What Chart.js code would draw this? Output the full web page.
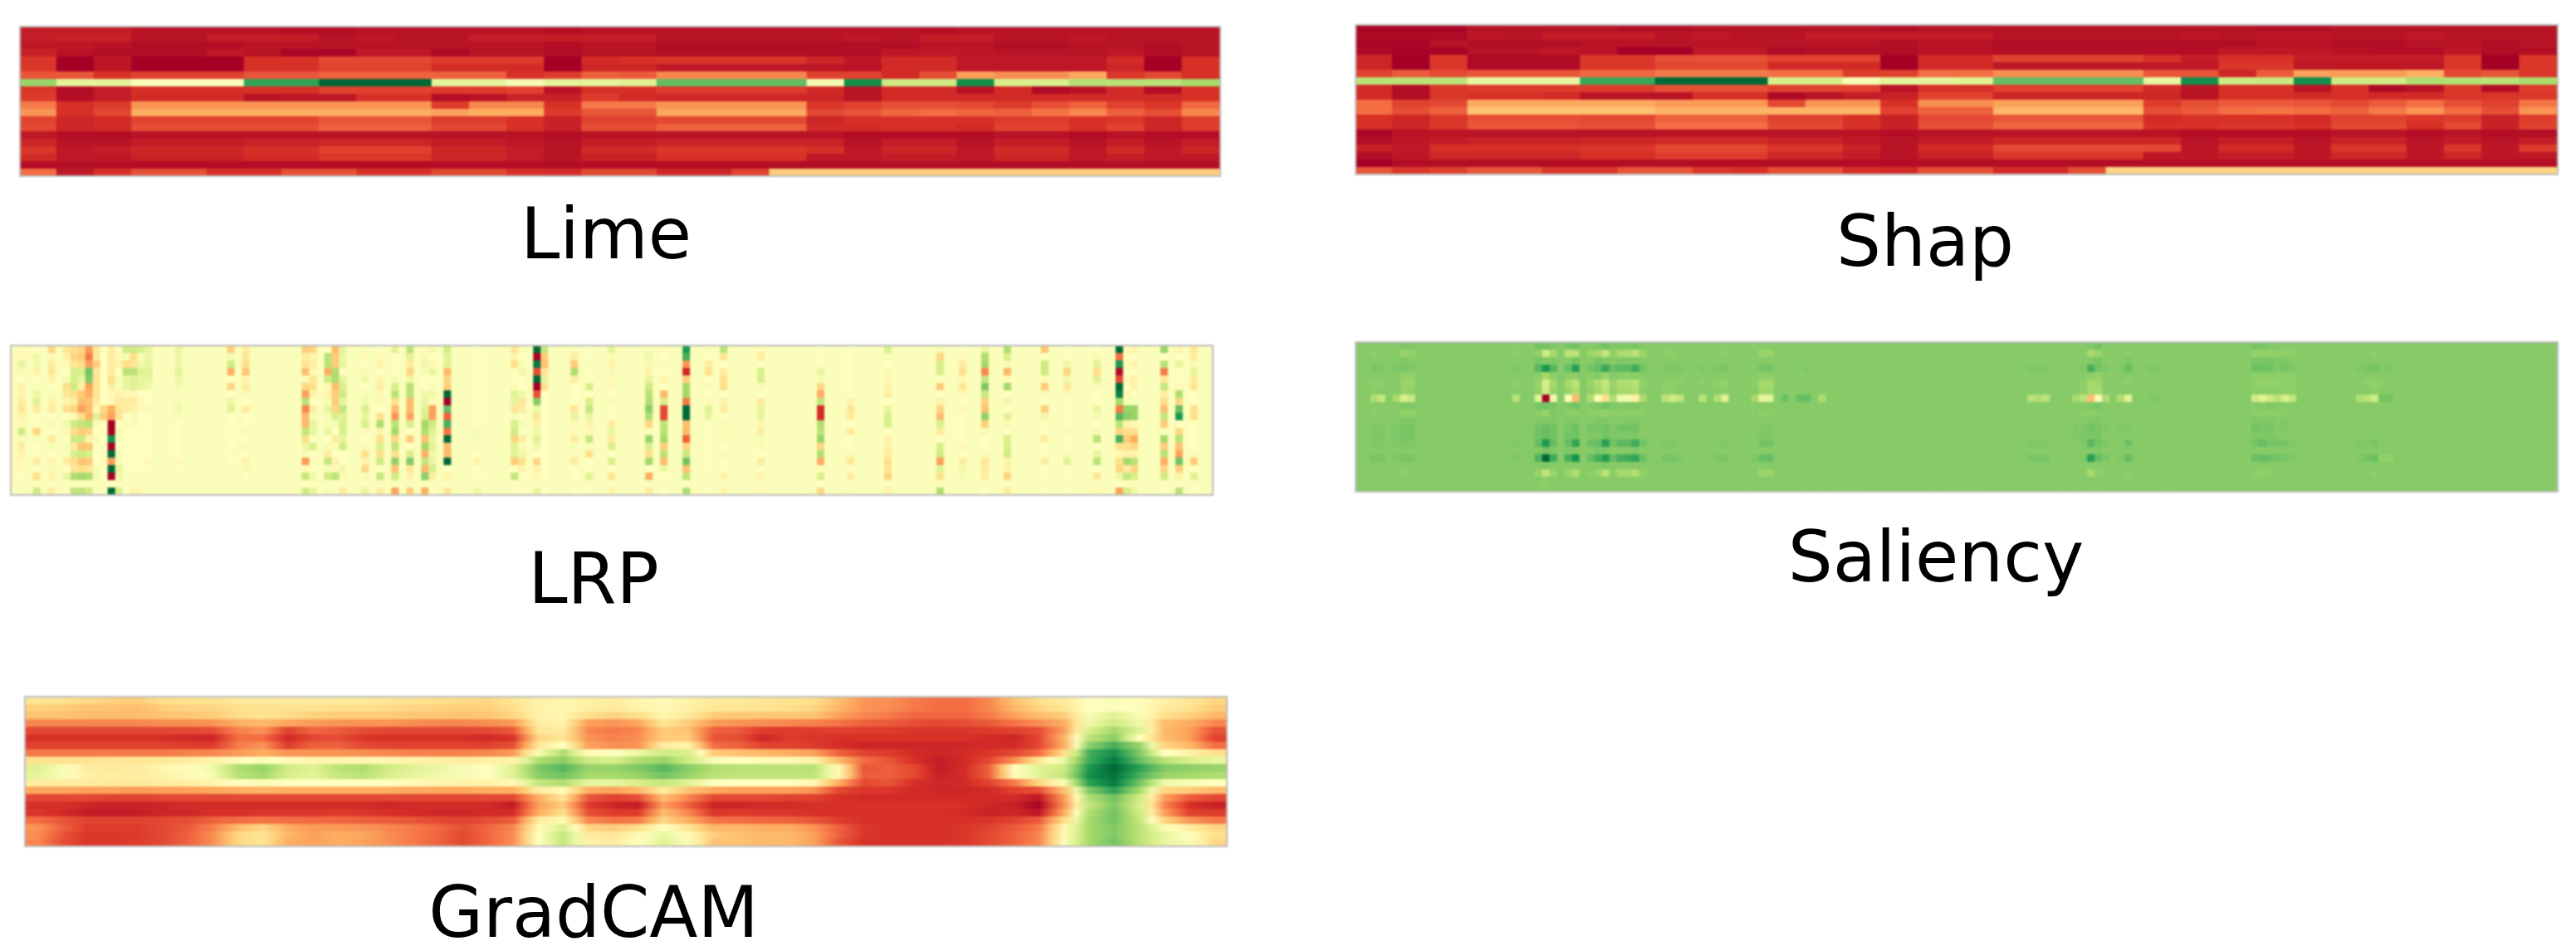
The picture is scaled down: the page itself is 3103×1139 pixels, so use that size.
<!DOCTYPE html>
<html>
<head>
<meta charset="utf-8">
<title>Explanation heatmaps</title>
<script src="https://cdn.jsdelivr.net/npm/chart.js@4"></script>
<style>
    html, body { margin: 0; padding: 0; background: #fff; overflow: hidden; }
    canvas { position: absolute; display: block; filter: blur(1px); }
    .name {
        position: absolute;
        font-family: "DejaVu Sans", sans-serif;
        font-size: 85px;
        line-height: 85px;
        color: #000;
        white-space: nowrap;
        transform: translateX(-50%);
    }
</style>
</head>
<body>
<canvas id="limeChart"></canvas>
<canvas id="shapChart"></canvas>
<canvas id="lrpChart"></canvas>
<canvas id="saliencyChart"></canvas>
<canvas id="gradcamChart"></canvas>
<div class="name" style="left:730px;top:239px">Lime</div>
<div class="name" style="left:2319px;top:248px">Shap</div>
<div class="name" style="left:715px;top:654px">LRP</div>
<div class="name" style="left:2332px;top:628px">Saliency</div>
<div class="name" style="left:715px;top:1056px">GradCAM</div>
<script>
// all cell values are positions on the RdYlGn colour scale: 0 = dark red, 50 = pale yellow, 100 = dark green
const limeRows = [
    [6,6,6,4,4,4,4,3,3,4,4,4,4,4,3,4,4,4,4,4,4,4,4,4,3,4,4,4,4,4,4,4],
    [6,7,7,4,4,6,6,6,4,5,4,4,6,6,6,6,6,4,4,4,4,4,5,4,6,6,4,4,5,4,4,4],
    [5,5,4,3,3,3,4,4,4,4,4,4,4,4,3,4,4,3,3,3,3,3,3,3,4,4,3,3,4,4,3,4],
    [7,4,3,3,3,5,4,1,1,5,5,2,4,4,3,4,4,3,3,3,3,3,3,5,5,5,4,4,4,5,3,4],
    [11,0,5,0,0,0,10,10,14,14,14,12,12,12,0,9,10,11,11,11,11,8,5,9,9,5,5,5,5,9,0,10],
    [11,0,5,0,0,0,10,10,13,13,13,9,9,9,0,8,8,5,5,5,5,5,4,9,9,5,5,5,5,8,0,10],
    [16,16,10,13,13,13,16,16,18,18,18,18,18,10,12,18,17,24,24,24,24,13,13,9,15,28,25,25,29,11,14,10],
    [72,57,57,51,51,51,87,87,100,100,100,57,57,52,57,57,58,80,80,80,80,53,92,62,62,92,60,60,67,66,66,70],
    [11,3,6,10,10,10,10,10,13,13,13,12,12,13,4,10,10,12,12,12,12,9,4,9,9,4,9,2,4,9,3,10],
    [12,3,6,9,9,9,4,5,5,10,10,3,4,7,7,12,9,8,8,8,8,8,4,9,9,9,9,9,9,9,9,10],
    [22,10,12,26,26,26,26,26,26,26,26,12,24,24,10,22,22,26,26,26,26,11,13,15,15,14,12,15,18,13,11,19],
    [26,10,14,30,30,30,30,30,30,30,30,28,30,30,12,16,16,29,29,29,29,14,16,19,20,19,18,21,24,18,15,24],
    [13,8,9,13,13,13,13,13,16,16,16,12,12,10,7,13,13,14,14,14,14,8,10,10,10,10,12,12,10,11,8,12],
    [14,8,9,15,15,15,15,15,18,18,18,14,14,10,7,15,15,18,18,18,18,9,9,10,10,9,13,13,10,13,8,12],
    [5,3,3,4,4,4,4,4,4,4,4,4,4,4,3,4,4,4,4,4,4,4,3,3,3,3,4,4,3,4,3,3],
    [8,4,4,6,6,6,7,7,8,8,8,6,6,5,4,6,6,7,7,7,7,7,4,6,6,4,6,6,4,6,4,6],
    [11,5,6,8,8,8,10,10,13,13,13,8,8,6,4,9,9,11,11,11,11,10,5,8,8,5,9,9,5,9,5,8],
    [9,5,5,7,7,7,9,9,11,11,11,8,8,6,4,7,7,10,10,10,10,5,5,6,6,5,8,8,5,6,5,5],
    [3,3,3,3,3,3,3,3,3,3,3,3,3,3,3,3,3,3,3,3,3,3,3,3,3,3,3,3,3,3,3,3],
    [20,5,10,15,15,10,10,15,15,10,10,14,14,10,9,14,14,8,8,13,36,36,36,36,36,36,36,36,36,36,36,36]
];

const shapRows = [
    [1,1,1,4,4,4,4,3,3,4,4,4,4,4,3,4,4,4,4,4,4,4,4,4,3,3,4,4,4,4,4,4],
    [2,2,2,5,4,6,6,6,4,5,4,4,6,6,6,6,6,4,4,4,4,4,5,4,5,5,4,4,5,4,4,4],
    [1,1,4,3,3,3,4,4,4,4,4,4,4,4,3,4,4,3,3,3,3,3,3,3,4,4,3,3,4,4,3,4],
    [2,1,1,4,4,5,4,0,0,5,5,2,3,3,3,4,4,3,3,3,3,3,3,5,5,5,4,3,3,5,3,3],
    [8,0,11,2,2,2,11,11,15,15,15,13,13,13,0,9,9,13,13,13,13,10,6,10,10,6,6,6,6,11,0,11],
    [8,0,11,2,2,2,11,11,14,14,14,9,9,9,0,9,9,5,5,5,5,5,5,11,11,5,5,5,5,11,0,11],
    [13,17,14,16,16,16,19,19,22,22,22,20,20,12,13,20,20,25,25,25,25,16,16,8,17,28,27,27,30,14,16,11],
    [66,66,66,56,56,56,86,86,100,100,100,60,60,52,57,57,58,80,80,80,80,56,92,62,63,92,62,62,68,67,66,69],
    [9,3,11,12,12,12,12,12,15,15,15,13,13,13,4,10,10,13,13,13,13,9,4,10,10,4,10,2,4,11,3,12],
    [9,3,11,10,10,9,4,4,4,10,10,2,4,6,7,13,13,8,8,8,8,8,4,10,10,9,10,9,9,11,11,11],
    [20,13,14,29,29,29,29,29,27,27,27,14,26,26,10,25,25,28,28,28,28,12,15,17,17,16,14,17,20,15,13,21],
    [20,15,18,34,34,34,34,34,31,31,31,31,31,31,13,18,18,32,32,32,32,15,17,20,21,20,18,22,26,20,15,26],
    [10,8,11,15,15,15,14,14,18,18,18,13,13,10,7,14,14,16,16,16,16,9,10,10,10,9,13,13,11,12,7,12],
    [10,8,11,16,16,16,15,15,20,20,20,14,14,10,7,15,15,19,19,19,19,10,10,11,11,10,14,14,10,14,7,13],
    [1,4,4,4,4,4,4,4,4,4,4,4,4,4,3,4,4,4,4,4,4,4,3,3,3,3,4,4,3,4,3,3],
    [3,5,6,7,7,7,8,8,9,9,9,7,7,5,4,6,6,8,8,8,8,8,4,6,6,4,7,7,4,6,4,6],
    [7,5,10,10,10,10,11,11,14,14,14,11,11,7,4,9,9,14,14,14,14,14,5,9,9,5,11,11,5,11,5,12],
    [3,5,8,8,8,8,10,10,12,12,12,8,8,6,4,7,7,11,11,11,11,5,5,6,6,5,8,8,5,8,5,5],
    [0,3,3,3,3,3,3,3,3,3,3,3,3,3,3,3,3,3,3,3,3,3,3,3,3,3,3,3,3,3,3,3],
    [16,11,13,16,16,11,11,16,16,11,10,15,15,10,9,15,15,9,9,15,38,38,38,38,38,38,38,38,38,38,38,38]
];

// LRP and Saliency are mostly flat: only the columns that stand out are listed, the rest stay at the base value
const gridColumns = 161;
const gridRows = 20;
const lrpBase = 51;
const lrpColumnIndex = [
    1, 3, 5, 7, 8, 9, 10, 11, 12, 13, 14, 15, 16, 17, 18, 22, 29, 31, 39, 40, 42, 43, 44, 47, 49, 51, 53, 55, 56, 58,
    62, 67, 68, 70, 71, 75, 77, 80, 85, 87, 90, 93, 95, 100, 108, 112, 117, 124, 127, 130, 133, 138, 141, 145, 148, 149, 150, 154, 156, 158
];
const lrpColumnValues = [
    [48,48,56,52,50,46,46,44,42,46,48,62,52,44,46,48,48,50,51,51],
    [50,54,54,46,50,52,55,58,44,50,50,38,52,50,50,44,50,40,51,62],
    [38,48,44,42,46,50,52,46,44,50,52,50,44,52,50,46,52,46,51,44],
    [42,46,48,50,52,40,42,46,40,50,54,48,50,52,52,44,50,56,51,50],
    [40,38,42,60,60,62,40,44,38,48,62,40,62,44,60,40,42,68,51,65],
    [38,36,40,60,56,45,35,33,28,40,64,36,62,34,62,34,40,70,51,65],
    [27,22,28,78,75,28,30,34,33,31,66,38,46,35,60,36,42,68,51,62],
    [43,43,36,42,42,42,42,44,48,58,52,50,52,50,50,50,52,52,51,51],
    [50,50,50,50,50,50,50,50,38,36,50,51,50,50,51,48,50,50,51,51],
    [44,44,44,44,40,44,48,48,30,28,0,0,92,0,100,27,100,0,50,100],
    [48,48,46,50,52,52,46,44,42,42,50,52,52,50,52,52,56,54,51,60],
    [62,52,40,66,56,56,48,44,44,50,48,50,50,50,50,50,50,51,51,50],
    [62,40,42,66,58,58,48,44,46,52,48,50,50,50,50,50,50,51,51,46],
    [60,52,54,58,56,56,50,48,48,50,50,50,50,50,50,50,50,51,51,48],
    [56,55,56,58,56,54,50,50,52,50,50,50,50,50,50,48,50,51,51,51],
    [56,55,55,57,55,53,51,52,54,51,50,50,50,50,50,48,50,51,51,51],
    [36,52,62,30,50,38,50,55,58,50,50,51,50,50,51,50,51,51,51,51],
    [44,42,40,35,46,44,48,50,44,50,50,48,50,48,50,46,52,50,51,51],
    [36,44,42,33,52,38,28,66,24,32,32,64,40,55,52,27,48,64,50,62],
    [38,46,44,48,42,40,46,50,44,52,56,56,50,60,50,52,50,54,51,56],
    [50,66,66,30,62,48,46,52,56,52,52,56,50,52,44,64,52,62,51,52],
    [33,36,36,68,68,33,36,36,38,60,52,50,44,48,50,46,48,66,51,51],
    [56,55,56,50,56,60,62,56,64,58,60,60,56,62,50,50,54,48,51,44],
    [52,48,50,52,54,50,52,54,60,56,60,48,50,52,40,46,38,52,51,56],
    [50,48,46,50,46,44,48,52,50,40,68,46,40,60,40,62,50,64,51,44],
    [58,50,50,50,52,60,66,40,32,26,66,70,38,65,40,73,34,62,51,28],
    [66,58,44,38,55,66,66,32,32,28,60,50,36,50,60,76,42,46,51,36],
    [48,52,54,52,50,50,54,56,58,60,70,68,34,70,31,64,32,74,51,30],
    [54,50,48,56,50,52,54,48,28,28,62,58,56,58,54,56,60,44,51,50],
    [62,58,58,32,38,36,100,0,80,18,84,21,100,33,32,100,50,46,51,42],
    [50,50,50,50,50,50,50,50,50,50,50,52,52,48,50,46,50,50,51,54],
    [42,46,40,50,50,48,58,56,42,52,60,62,38,58,58,36,50,64,51,50],
    [52,50,52,54,50,50,54,42,44,50,52,50,44,52,54,40,46,50,51,50],
    [100,0,97,15,100,0,15,75,55,42,46,54,58,54,50,38,46,48,51,56],
    [64,36,34,42,56,40,50,50,50,50,50,50,50,50,50,50,50,50,51,50],
    [52,44,36,68,44,50,50,50,42,56,48,48,44,52,48,44,50,50,51,50],
    [50,50,52,50,50,60,50,60,64,56,46,48,64,52,40,50,50,58,51,50],
    [58,48,46,52,48,48,50,52,50,50,44,56,44,60,50,60,50,42,51,46],
    [52,54,52,46,56,62,66,68,74,68,38,52,72,60,40,70,50,30,51,44],
    [48,50,48,50,46,50,32,60,14,14,66,66,70,36,66,33,55,50,51,50],
    [90,84,26,8,36,70,70,22,100,100,33,32,18,38,63,78,34,65,50,68],
    [52,50,44,40,50,52,50,48,58,56,50,50,50,50,50,50,50,52,51,50],
    [66,42,50,44,40,40,50,46,44,50,52,48,52,50,52,50,50,46,51,46],
    [48,44,50,60,60,52,50,44,56,56,46,44,52,48,50,44,50,46,51,48],
    [50,50,50,56,52,38,30,65,9,9,68,66,72,38,68,30,48,60,50,38],
    [50,50,50,50,50,50,50,46,42,44,50,44,50,50,52,42,50,44,51,52],
    [60,52,50,52,48,46,44,50,56,60,60,50,46,46,44,40,42,38,51,46],
    [52,38,60,60,50,36,50,46,38,33,60,44,50,60,62,28,58,40,51,68],
    [50,48,44,40,48,42,48,50,48,50,50,50,50,48,50,44,54,52,51,51],
    [56,68,70,24,64,76,63,37,34,73,37,52,50,50,52,42,44,44,51,50],
    [68,60,52,32,48,70,50,54,50,58,48,50,60,60,62,46,46,38,51,44],
    [35,50,62,62,48,36,52,50,36,54,50,50,44,50,50,44,50,50,51,50],
    [50,50,54,38,54,42,48,50,50,50,50,48,50,50,52,58,50,50,51,50],
    [50,52,58,40,58,52,50,50,56,52,50,52,66,50,56,66,50,42,51,48],
    [100,20,90,2,14,100,95,70,22,82,66,38,84,40,48,40,38,55,50,28],
    [48,50,48,50,48,50,48,52,72,74,46,40,36,40,46,70,44,64,51,60],
    [46,50,46,50,46,46,50,52,72,72,48,40,30,38,46,66,38,60,51,54],
    [72,50,66,22,42,64,44,40,33,64,36,52,70,36,66,30,38,62,51,50],
    [46,50,56,50,50,48,68,38,80,90,50,38,66,34,28,78,36,46,51,66],
    [42,44,52,56,44,42,50,50,40,40,50,50,50,50,52,36,50,58,51,50]
];

const saliencyBase = 75;
const saliencyColumnIndex = [
    2, 3, 5, 6, 7, 21, 24, 25, 26, 28, 29, 31, 32, 33, 34, 35, 36, 37, 38, 41, 42, 43, 46, 48, 49, 53, 54, 55, 57, 59, 60, 62,
    90, 91, 92, 96, 97, 98, 99, 100, 102, 103, 106, 107, 120, 121, 122, 123, 124, 125, 134, 135, 136, 137, 138
];
const saliencyColumnValues = [
    [75,74,75,77,75,74,74,68,75,74,75,76,76,76,75,77,75,75,75,75],
    [75,75,75,76,75,74,75,64,75,75,75,76,76,76,75,77,75,75,75,75],
    [75,75,75,76,75,75,75,69,75,75,75,76,76,76,75,76,75,75,75,75],
    [76,72,76,77,73,72,72,60,76,73,76,77,77,77,75,77,75,74,75,75],
    [76,73,75,76,73,72,73,63,76,73,76,77,77,76,75,77,75,75,75,75],
    [75,74,75,76,75,74,75,66,75,75,75,75,75,76,75,76,75,75,75,75],
    [78,73,77,82,74,72,73,58,77,74,76,78,78,80,76,83,75,72,75,75],
    [78,62,76,90,70,60,62,0,78,72,76,80,80,90,78,100,76,65,74,74],
    [76,70,76,82,74,70,72,54,77,76,76,78,78,80,76,85,75,72,75,75],
    [77,66,75,80,74,70,72,52,76,74,76,77,78,80,76,84,75,72,75,75],
    [78,66,78,88,74,66,68,33,78,74,76,79,78,87,76,91,75,68,75,75],
    [75,72,75,78,74,72,73,68,75,74,75,77,76,79,75,80,75,74,75,75],
    [76,70,77,80,75,68,70,52,76,74,76,77,76,80,76,84,75,72,75,75],
    [78,64,76,86,72,64,66,40,78,73,76,78,78,88,76,89,76,66,75,75],
    [76,73,75,79,75,72,73,68,76,74,75,76,76,78,75,80,75,74,75,75],
    [76,69,76,81,74,68,70,54,75,74,75,78,76,81,75,84,75,70,75,75],
    [76,68,76,81,74,68,70,54,76,74,76,78,76,81,75,85,75,70,75,75],
    [77,66,76,85,74,66,68,45,76,74,76,78,76,85,76,87,75,68,75,75],
    [75,72,75,78,75,73,74,68,75,74,75,75,75,78,75,79,75,73,75,75],
    [75,74,75,76,75,74,74,66,75,75,75,75,75,76,75,77,75,75,75,75],
    [75,74,75,76,75,74,74,62,75,75,75,75,75,76,75,77,75,75,75,75],
    [75,75,75,76,75,74,75,65,75,75,75,75,75,75,75,76,75,75,75,75],
    [75,75,75,76,75,74,75,66,75,75,75,75,75,75,75,75,75,75,75,75],
    [75,75,75,76,75,74,75,68,75,75,75,75,75,75,75,76,75,75,75,75],
    [75,74,75,77,75,73,74,58,75,75,75,75,75,76,75,77,75,75,75,75],
    [75,75,75,75,75,74,75,70,75,75,75,75,75,75,75,76,75,75,75,75],
    [75,72,75,78,74,70,71,56,75,74,75,76,76,78,75,80,75,72,75,75],
    [75,72,75,78,74,70,71,58,75,74,75,76,76,78,75,80,75,72,75,75],
    [75,75,75,75,75,75,75,79,75,75,75,75,75,75,75,75,75,75,75,75],
    [75,75,75,75,75,75,75,80,75,75,75,75,75,75,75,75,75,75,75,75],
    [75,75,75,76,75,75,75,80,75,75,75,75,75,75,75,75,75,75,75,75],
    [75,75,75,75,75,75,75,69,75,75,75,75,75,75,75,75,75,75,75,75],
    [75,75,75,76,75,75,75,66,75,75,75,75,75,76,75,77,75,75,75,75],
    [75,75,75,76,75,75,75,68,75,75,75,75,75,76,75,77,75,75,75,75],
    [75,75,75,76,75,75,75,66,75,75,75,75,75,76,75,77,75,75,75,75],
    [75,75,75,75,75,75,75,70,75,75,75,76,76,75,75,75,75,75,75,75],
    [75,75,75,76,75,74,74,66,75,74,75,76,76,76,75,76,75,75,75,75],
    [76,70,76,84,74,70,70,33,76,74,76,78,76,82,76,88,75,70,75,75],
    [78,72,77,78,73,71,70,52,77,75,76,77,77,78,76,80,75,74,75,75],
    [75,75,75,76,75,75,75,68,75,75,75,76,75,76,75,77,75,75,75,75],
    [75,75,75,76,75,75,75,68,75,75,75,76,75,75,75,76,75,75,75,75],
    [75,74,76,80,75,74,75,58,75,75,75,76,75,79,75,80,75,74,75,75],
    [75,75,75,76,75,75,75,76,75,75,75,75,75,75,75,75,75,75,75,75],
    [75,75,75,76,75,75,75,76,75,75,75,75,75,75,75,75,75,75,75,75],
    [77,73,77,79,74,73,74,62,75,74,76,78,76,78,75,79,75,74,75,75],
    [77,73,77,79,74,73,74,58,75,74,76,77,76,80,75,80,75,73,75,75],
    [76,73,77,78,74,73,74,62,76,74,76,77,76,77,75,79,75,74,75,75],
    [75,74,76,76,74,73,74,66,75,74,75,75,75,78,75,78,75,75,75,75],
    [75,74,76,78,74,74,74,60,75,74,76,76,75,77,75,77,75,75,75,75],
    [75,74,75,76,74,74,74,64,75,75,75,75,75,76,75,76,75,75,75,75],
    [75,75,75,76,75,75,75,68,75,75,75,75,75,76,75,76,75,75,75,75],
    [75,75,75,77,75,74,75,66,75,75,75,75,75,76,75,78,75,75,75,75],
    [75,74,75,78,75,73,74,62,75,75,75,75,75,77,75,79,75,74,75,75],
    [75,75,75,76,75,74,75,78,75,75,75,75,75,75,75,73,75,75,75,75],
    [75,75,75,76,75,75,75,78,75,75,75,75,75,75,75,73,75,75,75,75]
];

const gradcamRows = [
    [42,41,39,37,36,40,41,41,43,44,44,44,43,43,42,41,40,39,38,42,46,47,45,44,47,48,46,43,43,42,41,40,33,26,25,22,20,20,24,34,40,44,50,52,49,45,42,38],
    [37,36,34,34,33,36,38,38,40,41,41,41,40,40,39,38,37,36,37,40,46,47,45,43,46,48,45,42,42,41,40,38,32,26,25,22,20,20,24,32,38,42,50,51,49,44,41,36],
    [34,34,33,33,33,34,35,36,39,41,39,37,36,36,36,35,35,34,35,38,46,47,40,37,40,47,43,36,35,35,35,34,28,24,22,19,19,19,22,28,33,36,52,58,52,40,37,32],
    [24,24,24,24,24,25,25,26,30,32,29,27,26,26,26,25,24,24,25,27,44,46,28,26,29,42,36,27,26,25,24,23,21,18,17,15,14,15,17,21,25,30,54,62,54,33,30,24],
    [14,14,14,14,14,14,14,15,23,26,13,19,17,15,14,14,14,14,14,17,42,44,24,22,24,36,34,18,17,12,12,12,13,12,12,11,11,11,12,13,15,28,60,70,58,32,28,16],
    [10,10,10,10,10,10,9,8,20,20,9,14,15,11,10,10,10,10,9,11,38,42,26,23,25,36,36,16,15,8,12,11,10,10,10,10,10,10,9,8,14,32,66,74,50,33,28,13],
    [13,13,13,13,13,13,12,12,22,26,12,18,18,14,13,13,13,13,13,15,43,50,28,25,26,44,46,20,18,13,13,12,9,8,8,8,8,8,9,9,14,30,74,84,72,38,32,20],
    [22,22,22,22,22,22,23,24,27,30,26,26,26,25,24,23,23,23,24,27,52,68,48,50,55,62,60,36,34,32,30,28,18,13,12,9,8,9,11,14,20,40,84,92,76,50,46,40],
    [41,41,41,42,42,43,44,46,48,52,48,47,47,47,47,46,45,44,45,46,68,74,62,60,68,72,62,52,50,48,48,46,32,20,16,10,6,9,14,25,42,56,85,96,80,66,60,56],
    [58,52,44,43,44,47,49,54,68,72,62,58,66,68,62,58,55,52,50,58,76,82,72,72,76,82,74,68,66,66,66,66,48,16,18,14,6,9,18,50,58,62,90,100,88,76,74,72],
    [57,52,45,44,44,46,48,53,66,70,60,57,64,66,60,56,54,52,50,58,74,78,70,70,72,78,72,66,65,65,65,65,48,17,18,14,7,9,18,48,58,64,92,98,84,72,70,68],
    [44,44,44,43,43,44,45,47,50,52,50,50,50,50,50,48,47,46,46,48,64,68,56,56,60,64,58,50,50,50,50,48,30,14,16,10,8,9,13,22,38,52,88,96,78,54,52,50],
    [29,29,28,28,27,28,28,29,30,31,30,30,30,30,30,29,29,29,30,30,44,48,30,28,32,44,34,29,28,28,28,26,14,11,11,9,8,8,9,13,15,34,76,88,70,38,36,32],
    [14,14,14,13,13,14,14,14,14,14,14,14,14,14,14,14,14,14,14,14,30,42,16,13,15,33,24,14,14,14,13,13,10,9,9,9,9,9,9,9,5,28,68,78,62,28,17,14],
    [10,10,8,7,7,8,9,9,9,9,9,9,9,9,8,9,9,9,9,6,28,36,12,8,6,28,18,8,8,9,9,10,10,10,10,10,10,10,8,7,1,26,64,76,60,24,10,7],
    [11,9,6,6,6,8,8,10,10,11,11,11,12,11,10,9,8,8,9,9,30,40,15,12,12,33,24,11,12,11,11,10,10,10,10,10,10,9,7,8,5,30,68,78,62,28,13,12],
    [20,16,13,13,13,14,15,18,20,21,20,19,19,18,17,16,14,13,15,17,44,48,24,21,22,38,30,21,20,19,18,16,12,10,10,10,10,10,11,13,17,40,70,78,64,38,26,22],
    [26,18,12,12,12,14,17,23,33,38,30,27,27,26,24,22,19,15,19,24,48,60,38,36,40,50,42,32,32,30,30,26,18,11,10,10,10,11,13,17,22,48,70,76,66,52,44,38],
    [25,16,11,11,12,14,18,25,38,42,32,28,30,29,25,22,19,14,19,25,50,64,44,42,48,56,48,36,34,32,32,28,18,11,10,10,10,11,14,18,24,48,70,76,66,56,50,40],
    [24,15,11,11,12,14,18,25,38,42,30,28,30,28,25,22,18,14,19,25,50,64,46,44,50,58,52,34,34,32,32,28,16,10,10,10,10,11,14,18,24,50,70,78,66,56,52,38]
];

// RdYlGn stops, same as the matplotlib colormap
const colorStops = ['#a50026','#d73027','#f46d43','#fdae61','#fee08b','#ffffbf','#d9ef8b','#a6d96a','#66bd63','#1a9850','#006837'];

function toRgb(hex) {
    return [1, 3, 5].map(i => parseInt(hex.slice(i, i + 2), 16));
}

function valueColor(value) {
    const pos = Math.min(Math.max(value, 0), 100) / 10;
    const low = Math.min(Math.floor(pos), 9);
    const a = toRgb(colorStops[low]);
    const b = toRgb(colorStops[low + 1]);
    const t = pos - low;
    return `rgb(${a.map((c, i) => Math.round(c + (b[i] - c) * t)).join(',')})`;
}

// expands the listed columns into full rows
function sparseRows(base, columnIndex, columnValues) {
    const rows = [];
    for (let r = 0; r < gridRows; r++) {
        const row = new Array(gridColumns).fill(base);
        columnIndex.forEach((col, i) => { row[col] = columnValues[i][r]; });
        rows.push(row);
    }
    return rows;
}

// GradCAM is shaded smoothly across each cell instead of flat
function smoothFill(row) {
    return ctx => {
        const i = ctx.dataIndex;
        const area = ctx.chart.chartArea;
        if (i === undefined || !area) return valueColor(row[0]);
        const step = (area.right - area.left) / row.length;
        const left = area.left + step * i;
        const prev = row[Math.max(i - 1, 0)];
        const next = row[Math.min(i + 1, row.length - 1)];
        const fill = ctx.chart.ctx.createLinearGradient(left, 0, left + step, 0);
        fill.addColorStop(0, valueColor((prev + row[i]) / 2));
        fill.addColorStop(0.5, valueColor(row[i]));
        fill.addColorStop(1, valueColor((row[i] + next) / 2));
        return fill;
    };
}

const framePlugin = {
    id: 'frame',
    afterDatasetsDraw(chart) {
        const { ctx, chartArea: a } = chart;
        ctx.save();
        ctx.strokeStyle = '#bcbcbc';
        ctx.lineWidth = 2;
        ctx.strokeRect(a.left, a.top, a.right - a.left, a.bottom - a.top);
        ctx.restore();
    }
};

function createHeatmap(id, left, top, width, height, rows, smooth) {
    const pad = 4;
    const canvas = document.getElementById(id);
    canvas.width = width + pad * 2;
    canvas.height = height + pad * 2;
    canvas.style.left = (left - pad) + 'px';
    canvas.style.top = (top - pad) + 'px';
    canvas.style.width = canvas.width + 'px';
    canvas.style.height = canvas.height + 'px';

    return new Chart(canvas.getContext('2d'), {
        type: 'bar',
        data: {
            labels: rows[0].map((_, i) => i),
            datasets: rows.map(row => ({
                data: row.map(() => 1),
                backgroundColor: smooth ? smoothFill(row) : row.map(valueColor),
                borderWidth: 0,
                barPercentage: 1.06,
                categoryPercentage: 1
            }))
        },
        options: {
            responsive: false,
            animation: false,
            events: [],
            devicePixelRatio: 1,
            layout: { padding: pad },
            plugins: { legend: { display: false }, tooltip: { enabled: false } },
            scales: {
                x: { display: false, stacked: true },
                y: { display: false, stacked: true, reverse: true, min: 0, max: rows.length }
            }
        },
        plugins: [framePlugin]
    });
}

createHeatmap('limeChart', 24, 32, 1446, 180, limeRows);
createHeatmap('shapChart', 1633, 30, 1448, 180, shapRows);
createHeatmap('lrpChart', 13, 416, 1448, 180, sparseRows(lrpBase, lrpColumnIndex, lrpColumnValues));
createHeatmap('saliencyChart', 1633, 412, 1448, 180, sparseRows(saliencyBase, saliencyColumnIndex, saliencyColumnValues));
createHeatmap('gradcamChart', 30, 839, 1448, 180, gradcamRows, true);
</script>
</body>
</html>
